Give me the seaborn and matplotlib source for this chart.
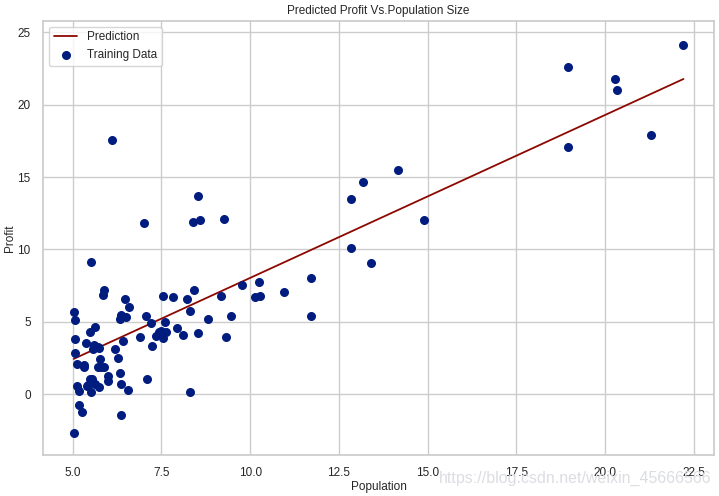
import numpy as np
import pandas as pd
import seaborn as sns
import matplotlib.pyplot as plt

# ex1data1: population (10,000s) vs profit ($10,000s)
population = [6.1101, 5.5277, 8.5186, 7.0032, 5.8598, 8.3829, 7.4764, 8.5781, 6.4862, 5.0546,
              5.7107, 14.164, 5.734, 8.4084, 5.6407, 5.3794, 6.3654, 5.1301, 6.4296, 7.0708,
              6.1891, 20.27, 5.4901, 6.3261, 5.5649, 18.945, 12.828, 10.957, 13.176, 22.203,
              5.2524, 6.5894, 9.2482, 5.8918, 8.2111, 7.9334, 8.0959, 5.6063, 12.836, 6.3534,
              5.4069, 6.8825, 11.708, 5.7737, 7.8247, 7.0931, 5.0702, 5.8014, 11.7, 5.5416,
              7.5402, 5.3077, 7.4239, 7.6031, 6.3328, 6.3589, 6.2742, 5.6397, 9.3102, 9.4536,
              8.8254, 5.1793, 21.279, 14.908, 18.959, 7.2182, 8.2951, 10.236, 5.4994, 20.341,
              10.136, 7.3345, 6.0062, 7.2259, 5.0269, 6.5479, 7.5386, 5.0365, 10.274, 5.1077,
              5.7292, 5.1884, 6.3557, 9.7687, 6.5159, 8.5172, 9.1802, 6.002, 5.5204, 5.0594,
              5.7077, 7.6366, 5.8707, 5.3054, 8.2934, 13.394, 5.4369]
profit = [17.592, 9.1302, 13.662, 11.854, 6.8233, 11.886, 4.3483, 12.0, 6.5987, 3.8166,
          3.2522, 15.505, 3.1551, 7.2258, 0.71618, 3.5129, 5.3048, 0.56077, 3.6518, 5.3893,
          3.1386, 21.767, 4.263, 5.1875, 3.0825, 22.638, 13.501, 7.0467, 14.692, 24.147,
          -1.22, 5.9966, 12.134, 1.8495, 6.5426, 4.5623, 4.1164, 3.3928, 10.117, 5.4974,
          0.55657, 3.9115, 5.3854, 2.4406, 6.7318, 1.0463, 5.1337, 1.844, 8.0043, 1.0179,
          6.7504, 1.8396, 4.2885, 4.9981, 1.4233, -1.4211, 2.4756, 4.6042, 3.9624, 5.4141,
          5.1694, -0.74279, 17.929, 12.054, 17.054, 4.8852, 5.7442, 7.7754, 1.0173, 20.992,
          6.6799, 4.0259, 1.2784, 3.3411, -2.6807, 0.29678, 3.8845, 5.7014, 6.7526, 2.0576,
          0.47953, 0.20421, 0.67861, 7.5435, 5.3436, 4.2415, 6.7981, 0.92695, 0.152, 2.8214,
          1.8451, 4.2959, 7.2029, 1.9869, 0.14454, 9.0551, 0.61705]

# fitted line endpoints
line_x = [5.0269, 22.203]
line_y = [2.43, 21.78]

data = pd.DataFrame({"Population": population, "Profit": profit})
line = pd.DataFrame({"Population": line_x, "Profit": line_y})

sns.set_theme(style="whitegrid", palette="dark")
plt.rcParams["font.family"] = ["Liberation Sans", "DejaVu Sans"]

fs = 8.5
fig, ax = plt.subplots(figsize=(7.19, 4.96), dpi=100)
sns.lineplot(data=line, x="Population", y="Profit", color="#8c0800", linewidth=1.3,
             label="Prediction", ax=ax)
ax.scatter(data["Population"], data["Profit"], color="#001c7f", s=30, label="Training Data", zorder=3)

ax.set_xticks(np.arange(5.0, 23.0, 2.5))
ax.set_yticks(np.arange(0, 26, 5))
ax.set_ylim(-4.2, 25.8)
ax.tick_params(labelsize=fs, pad=3)
ax.set_xlabel("Population", fontsize=fs, labelpad=1)
ax.set_ylabel("Profit", fontsize=fs, labelpad=1)
ax.set_title("Predicted Profit Vs.Population Size", fontsize=fs, pad=5)
ax.legend(loc="upper left", fontsize=fs)

fig.text(0.99, 0.02, "https://blog.csdn.net/weixin_45666566", ha="right", va="bottom",
         fontsize=11.5, color="#dcdde2")

fig.subplots_adjust(left=0.06, right=0.993, top=0.958, bottom=0.083)
fig.savefig("out.png")
